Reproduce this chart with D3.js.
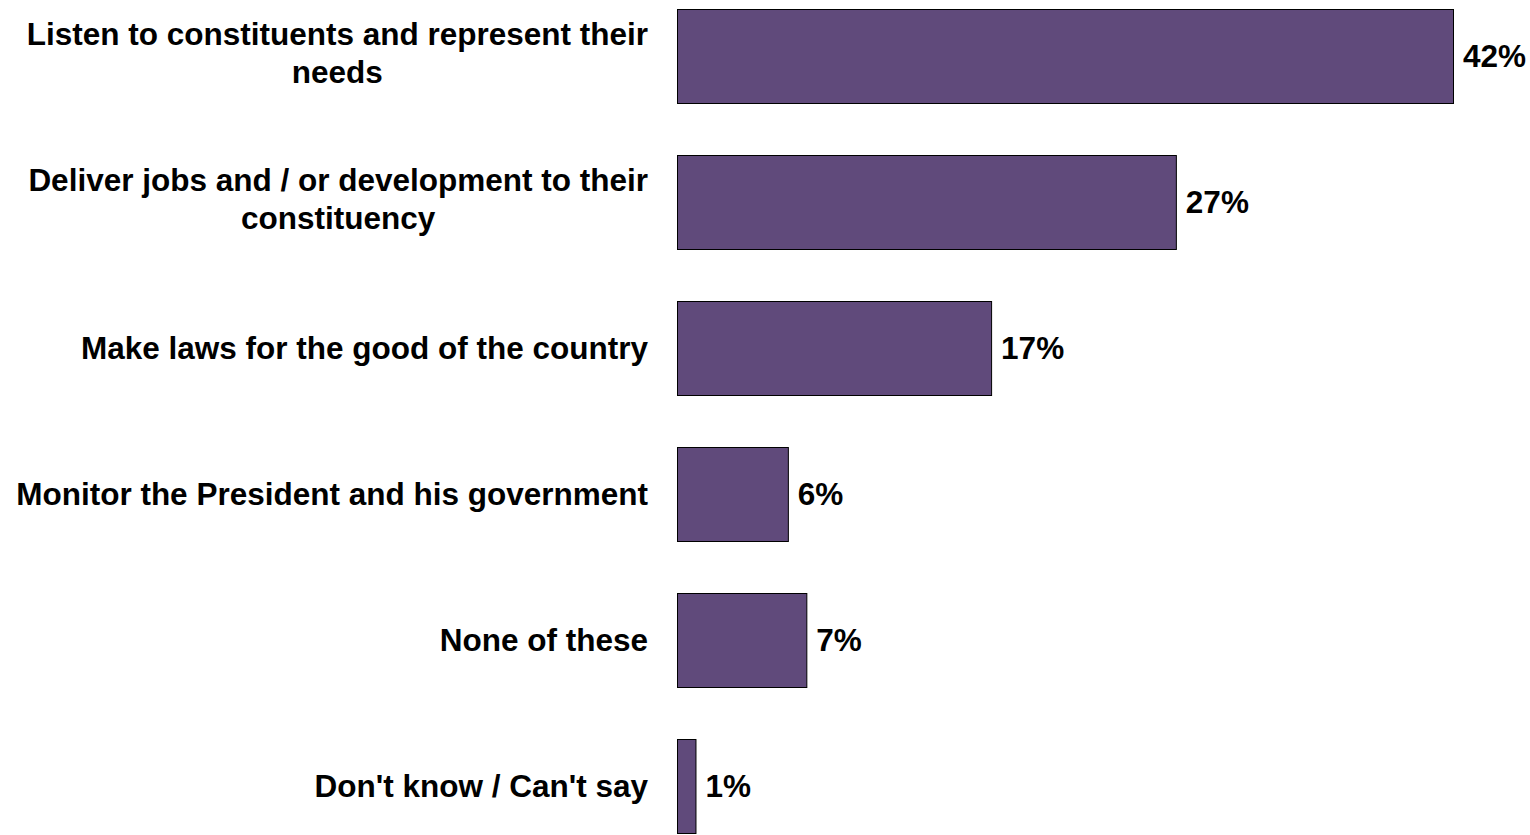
<!DOCTYPE html>
<html>
<head>
<meta charset="utf-8">
<script src="https://cdn.jsdelivr.net/npm/d3@7"></script>
<style>
  html, body { margin: 0; padding: 0; background: #ffffff; }
  svg { display: block; }
  text { font-family: "Liberation Sans", Arial, sans-serif; font-weight: bold; fill: #000; }
</style>
</head>
<body>
<svg id="chart" width="1530" height="835"></svg>
<script>
const categories = [
  ["Listen to constituents and represent their", "needs"],
  ["Deliver jobs and / or development to their", "constituency"],
  ["Make laws for the good of the country"],
  ["Monitor the President and his government"],
  ["None of these"],
  ["Don't know / Can't say"]
];
const values = [42, 27, 17, 6, 7, 1];
const valueLabels = ["42%", "27%", "17%", "6%", "7%", "1%"];

const svg = d3.select("#chart");
const keys = categories.map((c, i) => i);
const fontSize = 31.5;

const x = d3.scaleLinear().domain([0, 42]).range([677, 1453]);
const y = d3.scaleBand().domain(keys).range([-17, 859]).paddingInner(0.356).paddingOuter(0.178);

const g = svg.append("g");

g.selectAll("rect.bar").data(values).join("rect")
  .attr("class", "bar")
  .attr("x", x(0) + 0.5)
  .attr("y", (d, i) => Math.round(y(i)) + 0.5)
  .attr("width", d => x(d) - x(0))
  .attr("height", Math.round(y.bandwidth()))
  .attr("fill", "#604a7b")
  .attr("stroke", "#000")
  .attr("stroke-width", 1);

g.selectAll("text.val").data(values).join("text")
  .attr("class", "val")
  .attr("x", d => x(d) + 10)
  .attr("y", (d, i) => y(i) + y.bandwidth() / 2)
  .attr("dy", "0.35em")
  .attr("font-size", fontSize)
  .text((d, i) => valueLabels[i]);

const labelRight = 648;
const lineGap = 38;
const labels = g.selectAll("g.lab").data(categories).join("g").attr("class", "lab");
labels.each(function(lines, i) {
  const grp = d3.select(this);
  const cy = y(i) + y.bandwidth() / 2 - (lines.length > 1 ? 3 : 0);
  const n = lines.length;
  const texts = lines.map((line, k) => grp.append("text")
    .attr("font-size", fontSize)
    .attr("y", cy + (k - (n - 1) / 2) * lineGap)
    .attr("dy", "0.35em")
    .text(line));
  const widths = texts.map(t => t.node().getComputedTextLength());
  const maxW = Math.max(...widths);
  const center = labelRight - maxW / 2;
  texts.forEach(t => t.attr("x", center).attr("text-anchor", "middle"));
});
</script>
</body>
</html>
